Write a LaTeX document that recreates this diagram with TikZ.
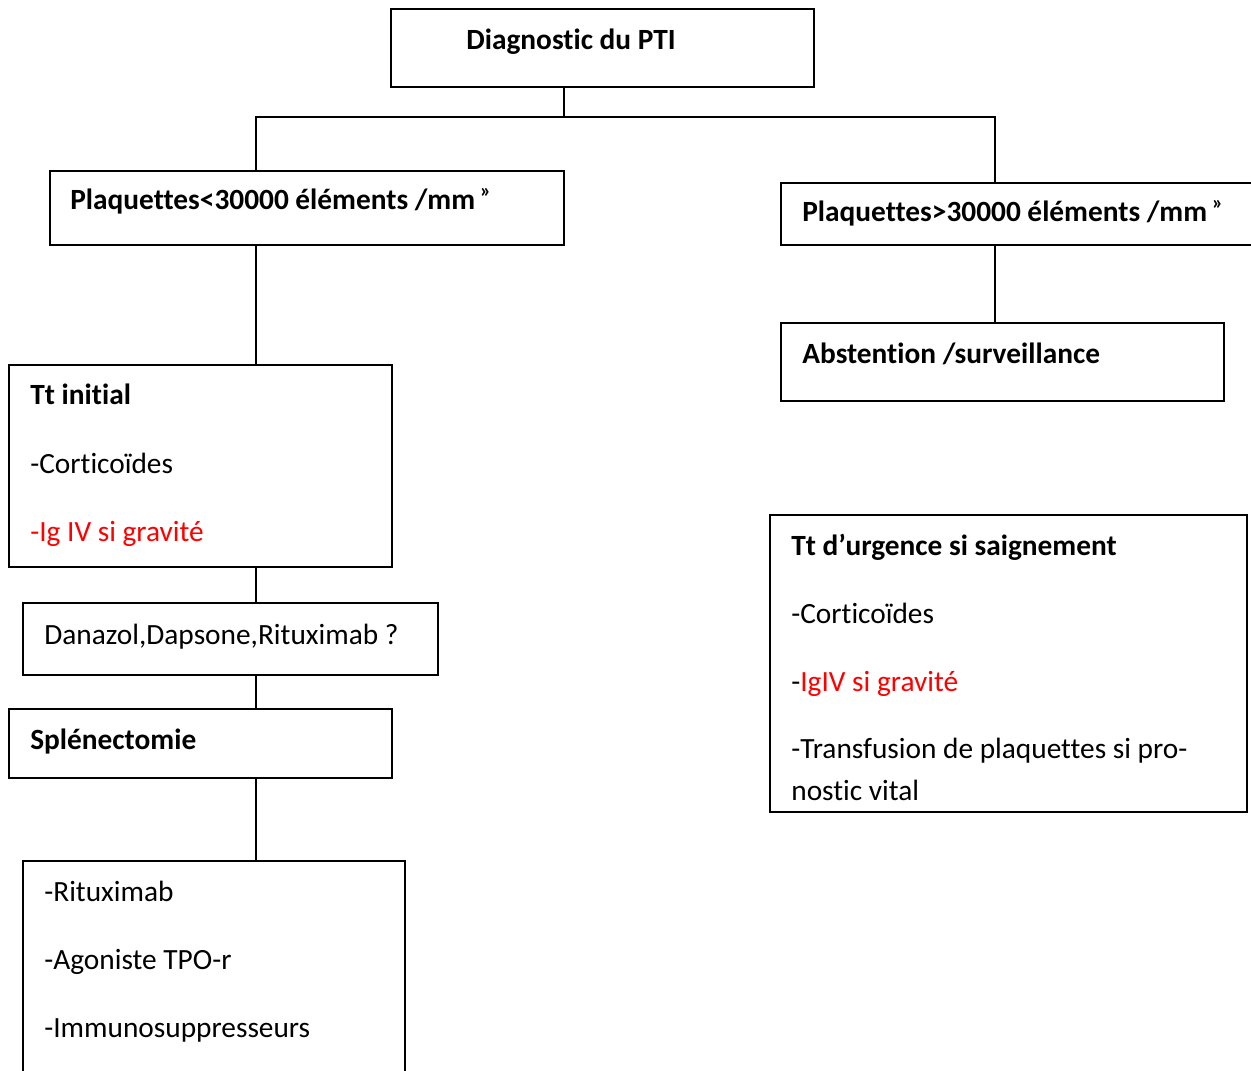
\documentclass[tikz,border=0pt]{standalone}
\usepackage{fontspec}
\setmainfont[Ligatures=NoCommon]{Carlito}
\definecolor{wred}{RGB}{255,0,0}
\newcommand\mkbox[5]{\node[box, minimum width={(#4-#2)*0.02cm}, minimum height={(#5-#3)*0.02cm}] (#1) at ({(#2+#4)/2},{(#3+#5)/2}) {};}
\newcommand\supq{\,\raisebox{0.42em}{\fontsize{11.5}{11.5}\selectfont »}}
\tikzset{
  box/.style={draw=black, line width=1pt, inner sep=0pt, fill=none},
  txt/.style={anchor=base west, inner sep=0pt, font=\fontsize{16.7}{20}\selectfont},
  btxt/.style={txt, font=\fontsize{16.7}{20}\selectfont\bfseries},
  conn/.style={draw=black, line width=1pt}
}
\begin{document}
\begin{tikzpicture}[x={(0.02cm,0)}, y={(0,-0.02cm)}]
\useasboundingbox (0,0) rectangle (1251,1071);
\fill[white] (0,0) rectangle (1251,1071);
% boxes
\mkbox{diag}{391}{9}{814}{87}
\mkbox{pl}{50}{171}{564}{245}
\mkbox{pr}{781}{183}{1262}{245}
\mkbox{abs}{781}{323}{1224}{401}
\mkbox{tt}{9}{365}{392}{567}
\mkbox{dan}{23}{603}{438}{675}
\mkbox{spl}{9}{709}{392}{778}
\mkbox{alt}{23}{861}{405}{1082}
\mkbox{urg}{770}{515}{1247}{812}
% texts
\node[btxt] (tdiag) at (466,50) {Diagnostic du PTI};
\node[btxt] (tpl) at (70,210) {Plaquettes<30000 éléments /mm\supq};
\node[btxt] (tpr) at (802,222) {Plaquettes>30000 éléments /mm\supq};
\node[btxt] (tabs) at (802,363) {Abstention /surveillance};
\node[btxt] (ttt1) at (30,404) {Tt initial};
\node[txt] (ttt2) at (30,473) {-Corticoïdes};
\node[txt, text=wred] (ttt3) at (30,541) {-Ig IV si gravité};
\node[txt] (tdan) at (44,644) {Danazol,Dapsone,Rituximab ?};
\node[btxt] (tspl) at (30,749) {Splénectomie};
\node[txt] (talt1) at (44,901) {-Rituximab};
\node[txt] (talt2) at (44,969) {-Agoniste TPO-r};
\node[txt] (talt3) at (44,1037) {-Immunosuppresseurs};
\node[btxt] (turg1) at (791,555) {Tt d’urgence si saignement};
\node[txt] (turg2) at (791,623) {-Corticoïdes};
\node[txt] (turg3) at (791,691) {-\textcolor{wred}{IgIV si gravité}};
\node[txt] (turg4) at (791,758) {-Transfusion de plaquettes si pro-};
\node[txt] (turg5) at (791,800) {nostic vital};
% connectors
\coordinate (j) at (564,117);
\coordinate (hl) at (256,117);
\coordinate (hr) at (995,117);
\draw[conn] (j |- diag.south) -- (j);
\draw[conn] (hl |- pl.north) -- (hl) -- (hr) -- (hr |- pr.north);
\draw[conn] (hr |- pr.south) -- (hr |- abs.north);
\draw[conn] (hl |- pl.south) -- (hl |- tt.north);
\draw[conn] (hl |- tt.south) -- (hl |- dan.north);
\draw[conn] (hl |- dan.south) -- (hl |- spl.north);
\draw[conn] (hl |- spl.south) -- (hl |- alt.north);
\end{tikzpicture}
\end{document}
